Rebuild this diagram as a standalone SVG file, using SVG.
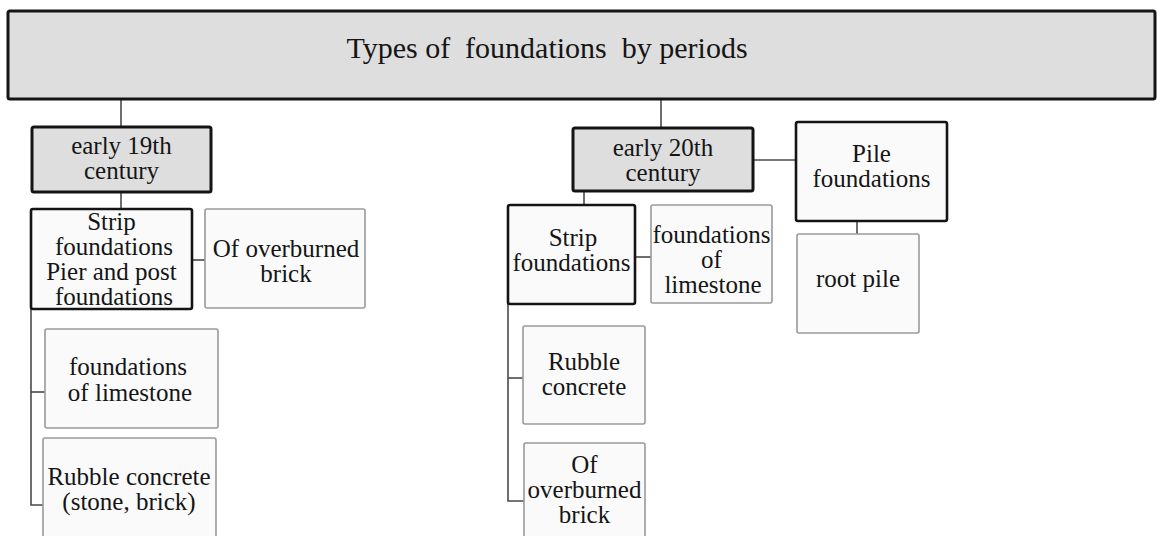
<svg xmlns="http://www.w3.org/2000/svg" width="1157" height="536" viewBox="0 0 1157 536">
<style>
.t{font-family:"Liberation Serif","Times New Roman",serif;font-size:25px;fill:#151515;text-anchor:middle}
.title{font-size:30px;white-space:pre}
.hd{fill:#dedede;stroke:#141414;stroke-width:3}
.bold{fill:#fafafa;stroke:#141414;stroke-width:2.6}
.thin{fill:#fafafa;stroke:#9a9a9a;stroke-width:1.6}
.c{fill:none;stroke:#4a4a4a;stroke-width:1.6}
</style>
<rect width="1157" height="536" fill="#ffffff"/>
<g id="connectors">
<path class="c" d="M121 99V127"/>
<path class="c" d="M121 192V209"/>
<path class="c" d="M192 260H205"/>
<path class="c" d="M31 309V505H43"/>
<path class="c" d="M31 392H45"/>
<path class="c" d="M661 99V128"/>
<path class="c" d="M753 160H796"/>
<path class="c" d="M857 221V234"/>
<path class="c" d="M584 191V205"/>
<path class="c" d="M635 257H651"/>
<path class="c" d="M508 304V501H524"/>
<path class="c" d="M508 378H523"/>
</g>
<g id="root">
<rect class="hd" x="8" y="11" width="1147" height="88" rx="2"/>
<text class="t title" x="547" y="58" xml:space="preserve">Types of  foundations  by periods</text>
</g>
<g id="early19">
<rect class="hd" x="32" y="127" width="179" height="65" rx="2"/>
<text class="t" x="121.5" y="154">early 19th</text>
<text class="t" x="121.5" y="179">century</text>
</g>
<g id="strip19">
<rect class="bold" x="31" y="209" width="161" height="100" rx="2"/>
<text class="t" x="111.5" y="230">Strip</text>
<text class="t" x="114" y="255">foundations</text>
<text class="t" x="111.5" y="280">Pier and post</text>
<text class="t" x="114" y="305">foundations</text>
</g>
<g id="brick19">
<rect class="thin" x="205" y="209" width="160" height="99" rx="2"/>
<text class="t" x="286" y="257">Of overburned</text>
<text class="t" x="286" y="282">brick</text>
</g>
<g id="limestone19">
<rect class="thin" x="45" y="329" width="173" height="99" rx="2"/>
<text class="t" x="128" y="375">foundations</text>
<text class="t" x="130" y="401">of limestone</text>
</g>
<g id="rubble19">
<rect class="thin" x="43" y="438" width="173" height="110" rx="2"/>
<text class="t" x="129" y="485">Rubble concrete</text>
<text class="t" x="129" y="510">(stone, brick)</text>
</g>
<g id="early20">
<rect class="hd" x="573" y="128" width="180" height="63" rx="2"/>
<text class="t" x="663" y="156">early 20th</text>
<text class="t" x="663" y="181">century</text>
</g>
<g id="pile">
<rect class="bold" x="796" y="122" width="151" height="99" rx="2"/>
<text class="t" x="871.5" y="162">Pile</text>
<text class="t" x="871.5" y="187">foundations</text>
</g>
<g id="rootpile">
<rect class="thin" x="797" y="234" width="122" height="99" rx="2"/>
<text class="t" x="858" y="287">root pile</text>
</g>
<g id="strip20">
<rect class="bold" x="508" y="205" width="127" height="99" rx="2"/>
<text class="t" x="573" y="246">Strip</text>
<text class="t" x="571.5" y="271">foundations</text>
</g>
<g id="limestone20">
<rect class="thin" x="651" y="205" width="121" height="98" rx="2"/>
<text class="t" x="711.5" y="243">foundations</text>
<text class="t" x="711.5" y="268">of</text>
<text class="t" x="713" y="293">limestone</text>
</g>
<g id="rubble20">
<rect class="thin" x="523" y="326" width="122" height="98" rx="2"/>
<text class="t" x="584" y="370">Rubble</text>
<text class="t" x="584" y="395">concrete</text>
</g>
<g id="brick20">
<rect class="thin" x="524" y="443" width="121" height="110" rx="2"/>
<text class="t" x="584.5" y="473">Of</text>
<text class="t" x="584.5" y="498">overburned</text>
<text class="t" x="584.5" y="523">brick</text>
</g>
</svg>
